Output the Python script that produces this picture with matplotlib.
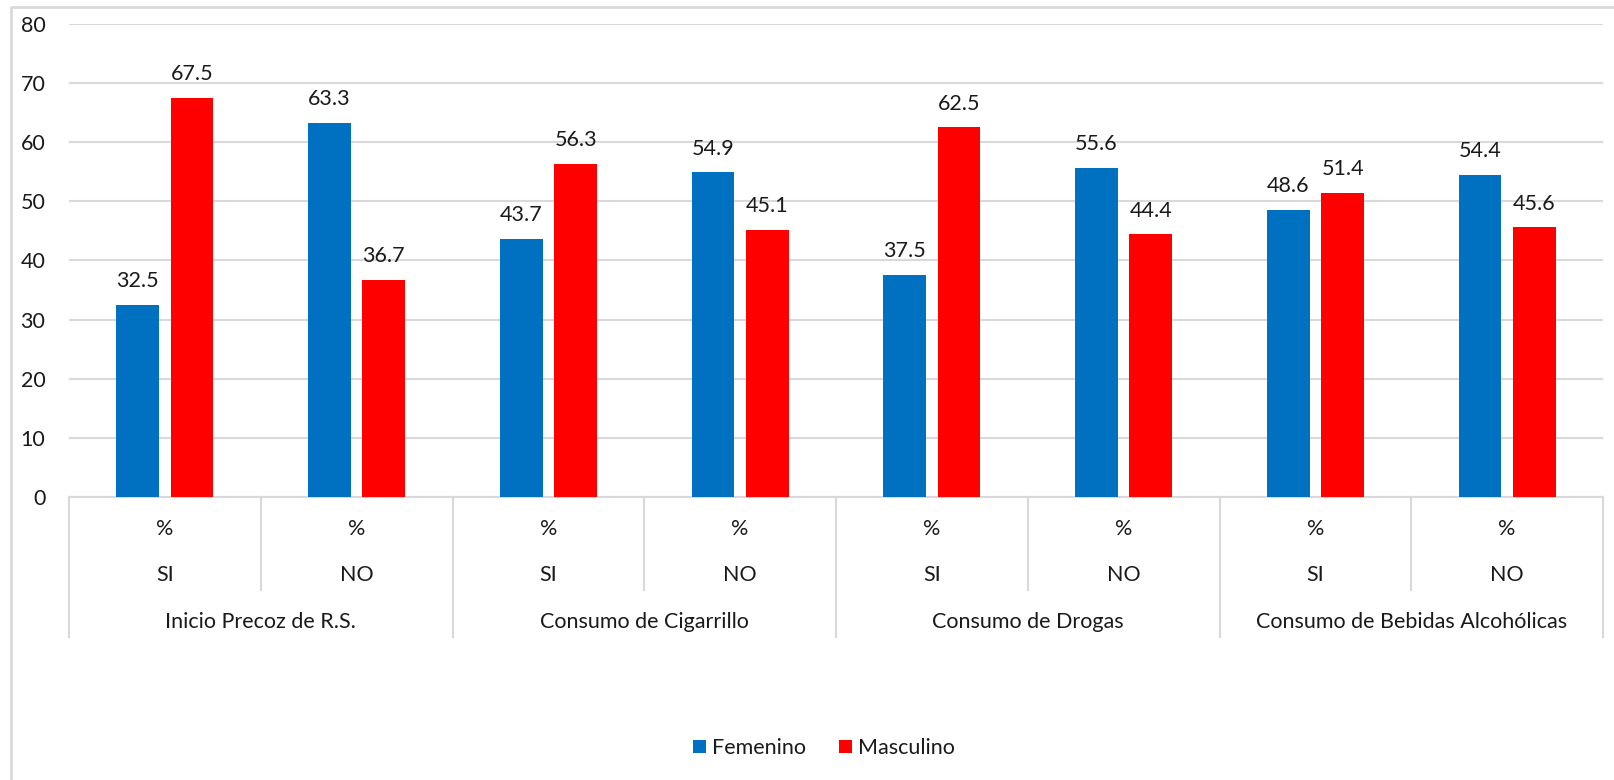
import matplotlib
matplotlib.use("Agg")
import matplotlib.pyplot as plt
from matplotlib.lines import Line2D
import numpy as np

groups = ["Inicio Precoz de R.S.", "Consumo de Cigarrillo",
          "Consumo de Drogas", "Consumo de Bebidas Alcohólicas"]
answers = ["SI", "NO"]
femenino = [32.5, 63.3, 43.7, 54.9, 37.5, 55.6, 48.6, 54.4]
masculino = [67.5, 36.7, 56.3, 45.1, 62.5, 44.4, 51.4, 45.6]

BLUE = "#0070C0"
RED = "#FF0000"
GRID = "#D9D9D9"
TXT = "#1a1a1a"
FS = 15.5

plt.rcParams["font.family"] = ["Lato", "DejaVu Sans"]

W, H = 1614, 780
fig = plt.figure(figsize=(W / 100, H / 100), dpi=100)
ax = fig.add_axes([69 / W, 1 - 497 / H, (1603 - 69) / W, (497 - 24) / H])

n = len(femenino)
x = np.arange(n)
bw = 0.223
off = 0.142
b1 = ax.bar(x - off, femenino, bw, color=BLUE, label="Femenino", zorder=3)
b2 = ax.bar(x + off, masculino, bw, color=RED, label="Masculino", zorder=3)
for bars, vals in ((b1, femenino), (b2, masculino)):
    for r, v in zip(bars, vals):
        ax.annotate(f"{v:.1f}", (r.get_x() + r.get_width() / 2, v),
                    xytext=(0, 10), textcoords="offset points",
                    ha="center", va="bottom", fontsize=FS, color=TXT)

ax.set_xlim(-0.5, n - 0.5)
ax.set_ylim(0, 80)
ax.set_yticks(range(0, 81, 10))
ax.yaxis.grid(True, color=GRID, linewidth=1.5, zorder=0)
ax.set_axisbelow(True)
ax.tick_params(axis="y", length=0, labelsize=FS, labelcolor=TXT, pad=17)
ax.set_xticks([])
for s in ("top", "right", "left"):
    ax.spines[s].set_visible(False)
ax.spines["bottom"].set_color(GRID)
ax.spines["bottom"].set_linewidth(1.5)

# multi-level category axis
trans = ax.get_xaxis_transform()
ph = 497 - 24
def ya(py):
    return -(py - 497) / ph

for i in range(n):
    ax.text(i, ya(529), "%", transform=trans, ha="center", va="center",
            fontsize=FS, color=TXT)
    ax.text(i, ya(575), answers[i % 2], transform=trans, ha="center",
            va="center", fontsize=FS, color=TXT)
for g, name in enumerate(groups):
    ax.text(2 * g + 0.5, ya(622), name, transform=trans, ha="center",
            va="center", fontsize=FS, color=TXT)
for k in range(n + 1):
    bottom = 637 if k % 2 == 0 else 590
    ax.add_line(Line2D([k - 0.5, k - 0.5], [0, ya(bottom)], transform=trans,
                       color=GRID, linewidth=1.5, clip_on=False))

# outer chart border
fig.add_artist(Line2D([11 / W, 11 / W, 1.0], [0, 1 - 7 / H, 1 - 7 / H],
                      color=GRID, linewidth=2, transform=fig.transFigure))

fig.legend(handles=[b1, b2], loc="center", bbox_to_anchor=(824 / W, 1 - 748 / H),
           ncol=2, frameon=False, fontsize=FS, handlelength=0.6,
           handleheight=0.6, handletextpad=0.3, columnspacing=1.5,
           labelcolor=TXT)

fig.savefig("out.png", dpi=100)
